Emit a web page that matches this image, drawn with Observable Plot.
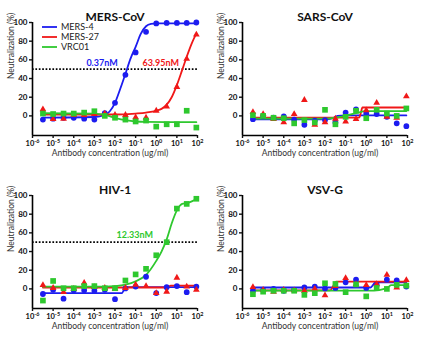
<!DOCTYPE html>
<html><head><meta charset="utf-8">
<script src="https://cdn.jsdelivr.net/npm/d3@7"></script>
<script src="https://cdn.jsdelivr.net/npm/@observablehq/plot@0.6"></script>
<style>
body{margin:0;background:#fff;}
#wrap{position:relative;width:425px;height:340px;overflow:hidden;font-family:Lato,"Open Sans",sans-serif;}
.panel{position:absolute;}
</style></head><body><div id="wrap"></div>
<script>
// ---------- data ----------
const panelTitles = ["MERS-CoV", "SARS-CoV", "HIV-1", "VSV-G"];
const antibodies = ["MERS-4", "MERS-27", "VRC01"];
const abColors = ["#1c1cf0", "#f01818", "#2ec82e"];
const abSymbols = ["circle", "triangle", "square"];
const conc = [3.2e-6, 1e-5, 3.2e-5, 1e-4, 3.2e-4, 1e-3, 3.2e-3, 1e-2, 3.2e-2, 0.1, 0.32, 1, 3.2, 10, 30, 88];
const xTicks = [1e-6, 1e-5, 1e-4, 1e-3, 1e-2, 1e-1, 1e0, 1e1, 1e2];
const yTicks = [0, 20, 40, 60, 80, 100];
const xDomain = [1e-6, 1e2];
const yDomain = [-21, 100];
const xLabel = "Antibody concentration (ug/ml)";
const yLabel = "Neutralization (%)";

// MERS-CoV
const mers_MERS4 = [-4, -3, -2, -2, -3, -4, 3, 14, 44, 68, 90, 99, 99.5, 99.5, 99.5, 100];
const mers_MERS27 = [7, -3.5, -3, 1, 1, 2, 2.5, 1, 1, -1.5, -2, 5.5, 10, 31, 61, 87];
const mers_VRC01 = [2.5, 2, 2.5, 2.5, 3.5, 5, 0, -2, -4, -6, -5, -11.5, -9, -9, 5.5, -12.5];
const mersFit_MERS4_x = [3.2e-6, 1e-3, 3.2e-3, 5.6e-3, 1e-2, 1.8e-2, 3.2e-2, 5.6e-2, 0.1, 0.18, 0.32, 0.56, 1, 88];
const mersFit_MERS4_y = [-1.8, -1.2, 1, 5, 14, 29, 45, 61, 74, 88, 96, 98.5, 99, 99];
const mersFit_MERS27_x = [3.2e-6, 1e-2, 0.1, 0.32, 1, 1.8, 3.2, 5.6, 10, 18, 32, 56, 88];
const mersFit_MERS27_y = [1.3, 1.5, 2.5, 3.5, 5.5, 7.5, 12, 20, 33, 49, 65, 79, 88];
const mersFit_VRC01_x = [3.2e-6, 1e-3, 3.2e-3, 1e-2, 3.2e-2, 0.1, 0.32, 88];
const mersFit_VRC01_y = [2.8, 2.5, 1, -2, -4.5, -6, -6.5, -6.7];
const mersEC50Text = ["0.37nM", "63.95nM"];
const mersEC50X = [0.0135, 12.6];
const mersEC50Y = [57, 57];

// SARS-CoV
const sars_MERS4 = [-3.5, 0, -2, -0.5, -4, -9.5, -5, -4.5, -7, 3.5, 7, 2.5, 2, -1, -8, -11];
const sars_MERS27 = [4, 2, -3.5, -7, 2, 17, -9.5, -7, -3, -6, -3.5, 6, 14, -1, -2, 21];
const sars_VRC01 = [0.7, 0, -2, -2.5, -8, -4.5, -7, 6.5, -9, -1, 5.5, -2.5, 6.5, 2.5, 0, 8];
const sarsFit_MERS4_x = [3.2e-6, 1e-2, 2.4e-2, 4e-2, 0.1, 88];
const sarsFit_MERS4_y = [-3.8, -3.8, -2.5, 0, 0.5, 0.5];
const sarsFit_MERS27_x = [3.2e-6, 0.45, 0.55, 0.65, 88];
const sarsFit_MERS27_y = [-1.8, -1.8, 3.5, 9, 9];
const sarsFit_VRC01_x = [3.2e-6, 1e-2, 3.2e-2, 0.1, 0.32, 1, 88];
const sarsFit_VRC01_y = [-3, -3, -2, 0, 3, 5, 5.2];

// HIV-1
const hiv_MERS4 = [-5.5, -1, -10.5, -1.5, -1.5, -2, -1, -11, 0.5, 2.5, 13, -4.5, 1.8, 3, -3.5, 2.5];
const hiv_MERS27 = [4, 1, -3.5, 0, 6.5, 2, 1, 0, 1, 4.5, 3, -4.5, -3, 12, 2.5, -1];
const hiv_VRC01 = [-12.5, 8.5, 0.7, 0.7, 3, 3, 0.7, 0.7, 9, 15.5, 21.5, 36, 50, 86, 91, 96.5];
const hivFit_MERS4_x = [3.2e-6, 0.022, 0.027, 0.034, 88];
const hivFit_MERS4_y = [-4.5, -4.5, -1, 1.8, 1.8];
const hivFit_MERS27_x = [3.2e-6, 3, 4, 5, 88];
const hivFit_MERS27_y = [1.5, 1.5, 2.5, 3.5, 3.5];
const hivFit_VRC01_x = [3.2e-6, 3.2e-3, 1e-2, 3.2e-2, 0.1, 0.32, 1, 1.8, 3.2, 5.6, 10, 18, 32, 56, 88];
const hivFit_VRC01_y = [2.5, 2.5, 3, 4.5, 8, 15, 30, 40, 53, 70, 84, 91, 92, 94, 96];
const hivEC50Text = ["12.33nM"];
const hivEC50X = [0.7];
const hivEC50Y = [58];

// VSV-G
const vsv_MERS4 = [-2, -1, 0, -2, -1, 1.5, 2.5, 0.5, 1, 7, 10, 1, 4.5, 10, 9, 2.5];
const vsv_MERS27 = [2, -1, -3, -1, -1.5, -2, 0, -7, 3, 11.5, 5, 4, 5, 15, 1.5, 9.5];
const vsv_VRC01 = [-5.7, -3, -2, -2, -2, -6.4, -4.6, 6, 5.3, -3.5, 4.8, -8, 1, 0, 4.3, 3.5];
const vsvFit_MERS4_x = [3.2e-6, 1.6, 2.1, 2.7, 88];
const vsvFit_MERS4_y = [1.5, 1.5, 4, 7, 7];
const vsvFit_MERS27_x = [3.2e-6, 0.018, 0.025, 0.034, 88];
const vsvFit_MERS27_y = [-1.5, -1.5, 3, 7.8, 7.8];
const vsvFit_VRC01_x = [3.2e-6, 2.4, 7.5, 12, 16, 88];
const vsvFit_VRC01_y = [-1.8, -1.8, 0, 2, 4, 4];

// ---------- assembly ----------
function pts(arrs) {
  const out = [];
  arrs.forEach((ys, k) => ys.forEach((y, i) => out.push({x: conc[i], y, ab: antibodies[k]})));
  return out;
}
function fits(pairs) {
  const out = [];
  pairs.forEach(([xs, ys], k) => xs.forEach((x, i) => out.push({x, y: ys[i], ab: antibodies[k]})));
  return out;
}
const panels = [
  {title: panelTitles[0], pts: pts([mers_MERS4, mers_MERS27, mers_VRC01]),
   fit: fits([[mersFit_MERS4_x, mersFit_MERS4_y], [mersFit_MERS27_x, mersFit_MERS27_y], [mersFit_VRC01_x, mersFit_VRC01_y]]),
   ec50: mersEC50Text.map((t, i) => ({t, x: mersEC50X[i], y: mersEC50Y[i], ab: antibodies[i]})), legend: true},
  {title: panelTitles[1], pts: pts([sars_MERS4, sars_MERS27, sars_VRC01]),
   fit: fits([[sarsFit_MERS4_x, sarsFit_MERS4_y], [sarsFit_MERS27_x, sarsFit_MERS27_y], [sarsFit_VRC01_x, sarsFit_VRC01_y]]),
   ec50: []},
  {title: panelTitles[2], pts: pts([hiv_MERS4, hiv_MERS27, hiv_VRC01]),
   fit: fits([[hivFit_MERS4_x, hivFit_MERS4_y], [hivFit_MERS27_x, hivFit_MERS27_y], [hivFit_VRC01_x, hivFit_VRC01_y]]),
   ec50: hivEC50Text.map((t, i) => ({t, x: hivEC50X[i], y: hivEC50Y[i], ab: antibodies[2]}))},
  {title: panelTitles[3], pts: pts([vsv_MERS4, vsv_MERS27, vsv_VRC01]),
   fit: fits([[vsvFit_MERS4_x, vsvFit_MERS4_y], [vsvFit_MERS27_x, vsvFit_MERS27_y], [vsvFit_VRC01_x, vsvFit_VRC01_y]]),
   ec50: []}
];
const positions = [[0, 0], [210, 0], [0, 173], [210, 173]];
const dotR = {"MERS-4": 2.9, "MERS-27": 2.5, "VRC01": 3.2};

const wrap = document.getElementById("wrap");
panels.forEach((p, idx) => {
  const marks = [
    Plot.ruleY([yDomain[0]], {x1: xDomain[0], x2: xDomain[1], stroke: "#000", strokeWidth: 1.6}),
    Plot.ruleX([xDomain[0]], {y1: yDomain[0], y2: yDomain[1], stroke: "#000", strokeWidth: 1.6}),
    Plot.axisX({ticks: xTicks, tickFormat: d => "10^" + Math.round(Math.log10(d)), tickSize: 3, tickPadding: 2,
      strokeWidth: 1.4, fontWeight: "bold", fontSize: 7.5, label: null}),
    Plot.axisY({ticks: yTicks, tickSize: 3, tickPadding: 2, strokeWidth: 1.4, fontWeight: "bold", fontSize: 8, label: null}),
  ];
  if (p.ec50.length) marks.push(Plot.ruleY([50], {stroke: "#000", strokeWidth: 1.7, strokeDasharray: "1.7,1.7"}));
  antibodies.forEach(ab => {
    marks.push(Plot.line(p.fit.filter(d => d.ab === ab), {x: "x", y: "y", stroke: "ab", strokeWidth: 1.8, curve: "monotone-x"}));
  });
  antibodies.forEach(ab => {
    marks.push(Plot.dot(p.pts.filter(d => d.ab === ab), {x: "x", y: "y", fill: "ab", symbol: "ab", r: dotR[ab], stroke: "none"}));
  });
  marks.push(Plot.text(p.ec50, {x: "x", y: "y", text: "t", fill: "ab", fontWeight: "bold", fontSize: 9, textAnchor: "end"}));
  marks.push(Plot.text([p.title], {frameAnchor: "top", dy: -10, fontWeight: "bold", fontSize: 12, fill: "#111"}));
  marks.push(Plot.text([xLabel], {frameAnchor: "bottom", dy: 20, dx: -5, fontSize: 8.5, fill: "#333"}));
  marks.push(Plot.text([yLabel], {frameAnchor: "left", dx: -21, rotate: -90, fontSize: 8.5, fill: "#333"}));

  const svg = Plot.plot({
    width: 212, height: 170,
    marginLeft: 32, marginRight: 15, marginTop: 22, marginBottom: 35,
    style: {fontFamily: "Lato, 'Open Sans', sans-serif", background: "transparent", color: "#111"},
    x: {type: "log", domain: xDomain},
    y: {domain: yDomain},
    color: {domain: antibodies, range: abColors},
    symbol: {domain: antibodies, range: abSymbols},
    marks
  });
  // superscript exponents on x tick labels
  svg.querySelectorAll("text").forEach(t => {
    const m = /^10\^(-?\d+)$/.exec(t.textContent);
    if (m) {
      t.textContent = "10";
      const ts = document.createElementNS("http://www.w3.org/2000/svg", "tspan");
      ts.setAttribute("dy", "-3");
      ts.setAttribute("font-size", "5.5");
      ts.textContent = m[1];
      t.appendChild(ts);
    }
  });
  const div = document.createElement("div");
  div.className = "panel";
  div.style.left = positions[idx][0] + "px";
  div.style.top = positions[idx][1] + "px";
  div.appendChild(svg);
  if (p.legend) {
    const ns = "http://www.w3.org/2000/svg";
    const lg = document.createElementNS(ns, "svg");
    lg.setAttribute("width", 70); lg.setAttribute("height", 36);
    lg.style.position = "absolute"; lg.style.left = "40px"; lg.style.top = "21px";
    antibodies.forEach((ab, k) => {
      const ln = document.createElementNS(ns, "line");
      ln.setAttribute("x1", 2); ln.setAttribute("x2", 17);
      ln.setAttribute("y1", 6 + k * 10); ln.setAttribute("y2", 6 + k * 10);
      ln.setAttribute("stroke", abColors[k]); ln.setAttribute("stroke-width", 1.8);
      lg.appendChild(ln);
      const tx = document.createElementNS(ns, "text");
      tx.setAttribute("x", 21); tx.setAttribute("y", 6 + k * 10);
      tx.setAttribute("dy", "0.35em");
      tx.setAttribute("font-size", 9);
      tx.setAttribute("fill", "#222");
      tx.setAttribute("font-family", "Lato, 'Open Sans', sans-serif");
      tx.textContent = ab;
      lg.appendChild(tx);
    });
    div.appendChild(lg);
  }
  wrap.appendChild(div);
});
</script></body></html>
